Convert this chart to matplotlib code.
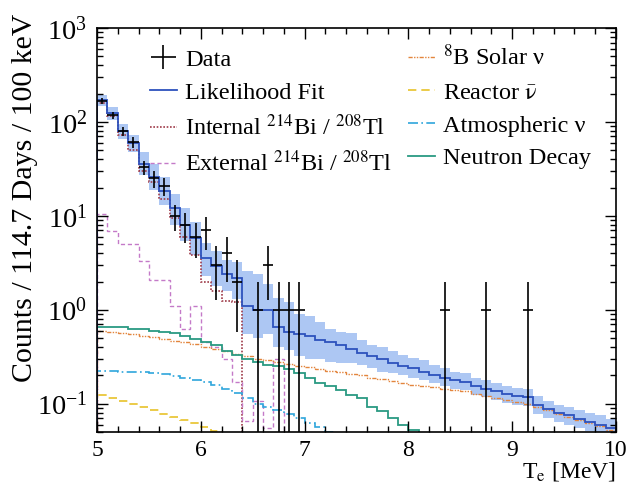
import numpy as np
import matplotlib
matplotlib.use("Agg")
import matplotlib.pyplot as plt
from matplotlib.ticker import MultipleLocator, LogLocator, NullFormatter
from matplotlib.lines import Line2D

plt.rcParams['font.family'] = ['Liberation Serif', 'DejaVu Serif']
plt.rcParams['mathtext.fontset'] = 'stix'

# 100 keV bins from 5 to 10 MeV
edges = np.round(np.arange(5.0, 10.001, 0.1), 1)
centres = 0.5 * (edges[:-1] + edges[1:])

data_counts = [168, 118, 80, 61, 33, 25, 21, 10, 8, 6,
               7, 3, 4, 2, 0, 1, 3, 1, 1, 1,
               0, 0, 0, 0, 0, 0, 0, 0, 0, 0,
               0, 0, 0, 1, 0, 0, 0, 1, 0, 0,
               0, 1, 0, 0, 0, 0, 0, 0, 0, 0]

fit = [171, 125, 80, 60, 36, 26, 18.5, 12, 8, 5.8,
       3.6, 2.9, 2.4, 2.2, 1.1, 1.0, 1.0, 0.65, 0.58, 0.55,
       0.52, 0.48, 0.45, 0.42, 0.38, 0.35, 0.32, 0.30, 0.27, 0.25,
       0.24, 0.22, 0.20, 0.19, 0.18, 0.17, 0.155, 0.145, 0.135, 0.127,
       0.12, 0.118, 0.097, 0.087, 0.079, 0.075, 0.069, 0.064, 0.060, 0.055]
fit_lo = [148, 105, 66, 48, 27, 19, 13, 8, 5.4, 3.8,
          2.3, 1.8, 1.6, 1.3, 0.55, 0.5, 0.55, 0.40, 0.37, 0.32,
          0.30, 0.30, 0.28, 0.27, 0.27, 0.26, 0.24, 0.22, 0.21, 0.20,
          0.19, 0.18, 0.165, 0.155, 0.145, 0.14, 0.125, 0.118, 0.11, 0.103,
          0.097, 0.095, 0.078, 0.07, 0.064, 0.06, 0.055, 0.051, 0.048, 0.044]
fit_hi = [195, 145, 95, 72, 48, 36, 26, 17, 12, 8.5,
          5.2, 4.2, 3.4, 3.2, 2.6, 2.4, 1.9, 1.35, 1.2, 0.9,
          0.85, 0.75, 0.62, 0.58, 0.56, 0.48, 0.42, 0.40, 0.36, 0.33,
          0.31, 0.29, 0.26, 0.24, 0.22, 0.21, 0.19, 0.178, 0.165, 0.155,
          0.147, 0.145, 0.12, 0.108, 0.098, 0.093, 0.086, 0.08, 0.075, 0.069]

internal = [160, 115, 72, 50, 30, 23, 15, 9.5, 6, 3.8,
            2.0, 1.6, 1.25, 1.2, 0, 0, 0, 0, 0, 0,
            0, 0, 0, 0, 0, 0, 0, 0, 0, 0,
            0, 0, 0, 0, 0, 0, 0, 0, 0, 0,
            0, 0, 0, 0, 0, 0, 0, 0, 0, 0]
external = [10.5, 6.9, 5.0, 5.0, 3.3, 2.1, 2.1, 1.1, 0.63, 1.1,
            0.45, 0.40, 0.30, 0.17, 0.066, 0.107, 0.055, 0.30, 0, 0,
            0, 0, 0, 0, 0, 0, 0, 0, 0, 0,
            0, 0, 0, 0, 0, 0, 0, 0, 0, 0,
            0, 0, 0, 0, 0, 0, 0, 0, 0, 0]
b8_solar = [0.60, 0.58, 0.56, 0.55, 0.53, 0.51, 0.49, 0.47, 0.45, 0.43,
            0.40, 0.38, 0.36, 0.34, 0.32, 0.30, 0.29, 0.28, 0.265, 0.255,
            0.245, 0.235, 0.225, 0.215, 0.205, 0.20, 0.19, 0.182, 0.175, 0.168,
            0.16, 0.155, 0.15, 0.145, 0.14, 0.135, 0.128, 0.12, 0.115, 0.11,
            0.105, 0.10, 0.093, 0.085, 0.078, 0.073, 0.067, 0.062, 0.058, 0.053]
reactor = [0.125, 0.115, 0.108, 0.10, 0.093, 0.085, 0.078, 0.072, 0.067, 0.062,
           0.056, 0.051, 0.046, 0.042, 0.038, 0.034, 0.031, 0.028, 0.025, 0.022,
           0.02, 0.018, 0.016, 0.014, 0.012, 0.011, 0.01, 0.009, 0.008, 0.007,
           0.006, 0.005, 0.004, 0.004, 0.003, 0.003, 0.002, 0.002, 0.002, 0.001,
           0.001, 0.001, 0.001, 0.001, 0.001, 0.001, 0.001, 0.001, 0.001, 0.001]
atmospheric = [0.225, 0.225, 0.22, 0.22, 0.215, 0.21, 0.205, 0.195, 0.19, 0.18,
               0.17, 0.16, 0.145, 0.13, 0.115, 0.10, 0.092, 0.085, 0.078, 0.07,
               0.063, 0.056, 0.05, 0.045, 0.04, 0.036, 0.032, 0.028, 0.025, 0.022,
               0.02, 0.018, 0.016, 0.014, 0.012, 0.011, 0.01, 0.009, 0.008, 0.007,
               0.006, 0.005, 0.005, 0.004, 0.004, 0.003, 0.003, 0.003, 0.002, 0.002]
neutron = [0.66, 0.65, 0.65, 0.63, 0.62, 0.60, 0.58, 0.56, 0.52, 0.49,
           0.45, 0.42, 0.36, 0.33, 0.30, 0.28, 0.26, 0.25, 0.235, 0.21,
           0.19, 0.165, 0.155, 0.14, 0.125, 0.115, 0.092, 0.084, 0.071, 0.059,
           0.052, 0.045, 0.04, 0.035, 0.03, 0.026, 0.022, 0.019, 0.016, 0.014,
           0.012, 0.01, 0.009, 0.008, 0.007, 0.006, 0.005, 0.004, 0.004, 0.003]

c_fit, c_band = '#2d52bd', '#adc7f3'
c_int, c_ext = '#9e3a48', '#c47ac8'
c_b8, c_rea, c_atm, c_neu = '#e3853d', '#e8c22a', '#2fa6dc', '#2a9a82'
ls_int = (0, (1, 1))
ls_ext = (0, (3, 2))
ls_b8 = (0, (3, 1, 1, 1, 1, 1))
ls_rea = (0, (5, 3))
ls_atm = (0, (6, 2, 1, 2))

fig = plt.figure(figsize=(6.29, 4.86), dpi=100)
ax = fig.add_axes([97/629, 1-432/486, (616-97)/629, (432-28)/486])

ax.stairs(fit_hi, edges, baseline=fit_lo, fill=True, color=c_band, lw=0)
ax.stairs(internal, edges, color=c_int, ls=ls_int, lw=1.2)
ax.stairs(external, edges, color=c_ext, ls=ls_ext, lw=1.0)
ax.stairs(b8_solar, edges, color=c_b8, ls=ls_b8, lw=1.0)
ax.stairs(reactor, edges, color=c_rea, ls=ls_rea, lw=1.2)
ax.stairs(atmospheric, edges, color=c_atm, ls=ls_atm, lw=1.2)
ax.stairs(neutron, edges, color=c_neu, lw=1.3)
ax.stairs(fit, edges, color=c_fit, lw=1.3)

counts = np.array(data_counts, dtype=float)
sel = counts > 0
ax.errorbar(centres[sel], counts[sel], yerr=np.sqrt(counts[sel]), xerr=0.05,
            fmt='none', ecolor='black', elinewidth=1.2, capsize=0)

ax.set_yscale('log')
ax.set_xlim(5, 10)
ax.set_ylim(0.05, 1000)
ax.xaxis.set_major_locator(MultipleLocator(1))
ax.xaxis.set_minor_locator(MultipleLocator(0.2))
ax.yaxis.set_minor_locator(LogLocator(subs=np.arange(2, 10)))
ax.yaxis.set_minor_formatter(NullFormatter())
ax.tick_params(which='both', direction='in', top=True, right=True)
ax.tick_params(which='major', length=8, width=1)
ax.tick_params(which='minor', length=4, width=1)
ax.tick_params(axis='x', labelsize=17, pad=6)
ax.tick_params(axis='y', labelsize=20.5, pad=7)
for s in ax.spines.values():
    s.set_linewidth(1.2)

h_data = ax.errorbar([], [], yerr=[], xerr=[], fmt='none', ecolor='black', elinewidth=1.2)
handles = [
    h_data,
    Line2D([], [], color=c_fit, lw=1.3),
    Line2D([], [], color=c_int, ls=ls_int, lw=1.2),
    Line2D([], [], color=c_ext, ls=ls_ext, lw=1.0),
    Line2D([], [], color=c_b8, ls=ls_b8, lw=1.0),
    Line2D([], [], color=c_rea, ls=ls_rea, lw=1.2),
    Line2D([], [], color=c_atm, ls=ls_atm, lw=1.2),
    Line2D([], [], color=c_neu, lw=1.3),
]
labels = [
    'Data',
    'Likelihood Fit',
    'Internal $^{214}$Bi / $^{208}$Tl',
    'External $^{214}$Bi / $^{208}$Tl',
    '$^{8}$B Solar ν',
    r'Reactor $\bar{\mathrm{\nu}}$',
    'Atmospheric ν',
    'Neutron Decay',
]
fig.legend(handles, labels, ncol=2, loc='upper left',
           bbox_to_anchor=(150/629, 1-45/486), frameon=False, fontsize=17.5,
           borderpad=0, borderaxespad=0, handlelength=1.1, handletextpad=0.35,
           labelspacing=0.45, columnspacing=0.65)

fig.text(25/629, 1-14/486, 'Counts / 114.7 Days / 100 keV', rotation=90,
         ha='center', va='top', fontsize=21.5)
fig.text(616/629, 1-460/486, r'T$_\mathrm{e}$ [MeV]', ha='right', va='top', fontsize=17)

fig.savefig('out.png', dpi=100)
